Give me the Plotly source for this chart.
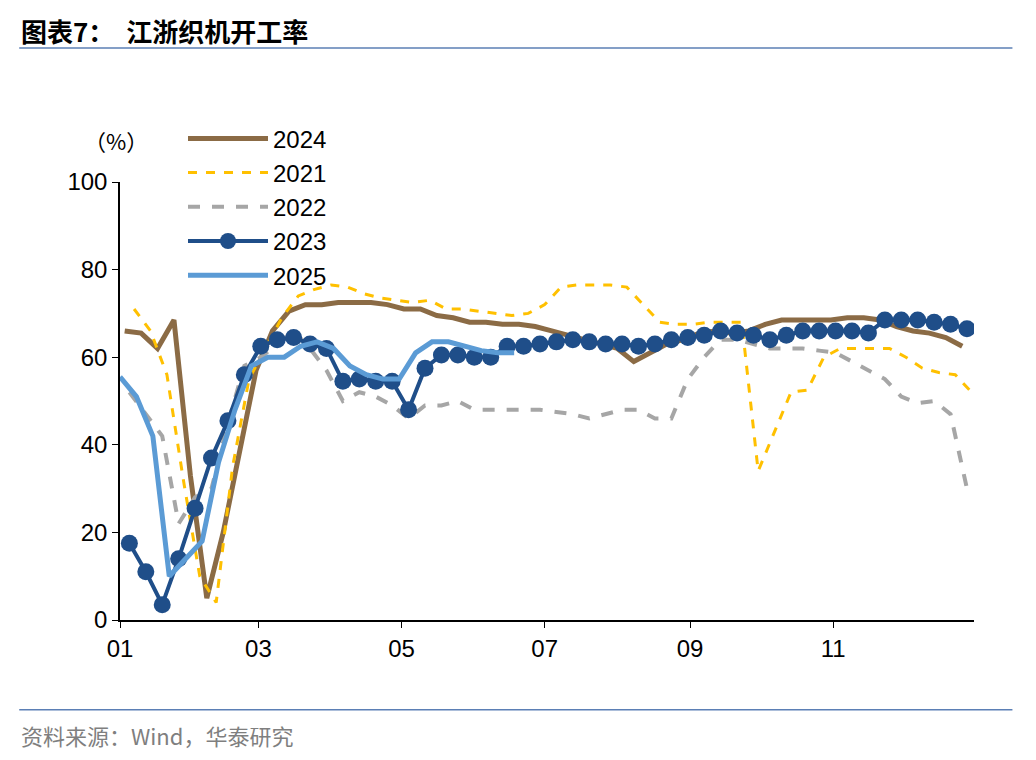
import plotly.graph_objects as go

tick_days = [0, 59, 120, 181, 243, 304]
tick_labels = ["01", "03", "05", "07", "09", "11"]

start_2024, start_2021, start_2022, start_2023, start_2025 = 2, 6, 4, 4, 0
v2024 = [66,65.5,62,68.5,33,5,20,38,57,66,70.5,72,72,72.5,72.5,72.5,72,71,71,69.5,
         69,68,68,67.5,67.5,67,66,65,64,63,62,59,61,63,64,65.5,66,65.5,66,67.5,
         68.5,68.5,68.5,68.5,69,69,68.5,67,66,65.5,64.5,62.5]
v2021 = [71,66,56,32,10,4,35,55,62,69,74,75.5,76.5,76,74.5,73.5,73,72.5,73,71,
         71,70.5,70,69.5,70,72,76,76.5,76.5,76.5,76,72,68,67.5,67.5,68,68,68,34,43,
         52,52.5,60,62,62,62,62,60,57.5,56.5,56,52]
v2022 = [52,47,42,22,28,30,45,58,60,63,66,62,57,50,52,51,49,46,49,49,
         50,48,48,48,48,48,47.5,47,46,47,48,48,46,46,55,60,64,64,63,62,
         62,62,61.5,61,59,57,55,51,49.5,50,47,30]
v2023 = [17.5,11,3.5,14,25.5,37,45.5,56,62.5,64,64.5,63,62,54.5,55,54.5,54.5,48,57.5,60.5,
         60.5,60,60,62.5,62.5,63,63.5,64,63.5,63,63,62.5,63,64,64.5,65,66,65.5,65,64,
         65,66,66,66,66,65.5,68.5,68.5,68.5,68,67.5,66.5]
v2025 = [55.5,51,42,10,14,18,36,48,58,60,60,62.5,63.5,62,58,56,55,55,61,63.5,
         63.5,62.5,61.5,61,61]

def days(start, vals):
    return [start + 7 * i for i in range(len(vals))]

fig = go.Figure()
fig.add_trace(go.Scatter(x=days(start_2024, v2024), y=v2024, name="2024", mode="lines",
                         line=dict(color="#8B6B45", width=5)))
fig.add_trace(go.Scatter(x=days(start_2021, v2021), y=v2021, name="2021", mode="lines",
                         line=dict(color="#FFC000", width=3, dash="dash")))
fig.add_trace(go.Scatter(x=days(start_2022, v2022), y=v2022, name="2022", mode="lines",
                         line=dict(color="#A6A6A6", width=4, dash="dash")))
fig.add_trace(go.Scatter(x=days(start_2023, v2023), y=v2023, name="2023", mode="lines+markers",
                         line=dict(color="#1F4E89", width=4), marker=dict(size=17, color="#1F4E89")))
fig.add_trace(go.Scatter(x=days(start_2025, v2025), y=v2025, name="2025", mode="lines",
                         line=dict(color="#5B9BD5", width=5)))

fig.update_layout(
    width=1036, height=760, plot_bgcolor="white", paper_bgcolor="white",
    margin=dict(l=112, r=70, t=174, b=148),
    font=dict(family="Liberation Sans, Arial", size=24, color="black"),
    showlegend=True,
    legend=dict(orientation="h", x=0.14, y=1.15, xanchor="left", yanchor="top",
                entrywidth=188, entrywidthmode="pixels", itemwidth=80,
                font=dict(size=24), bgcolor="rgba(0,0,0,0)"),
    xaxis=dict(range=[0, 364], tickvals=tick_days, ticktext=tick_labels, showgrid=False,
               showline=True, linecolor="black", linewidth=1.5, ticks="outside",
               ticklen=6, tickcolor="black", zeroline=False),
    yaxis=dict(range=[0, 100], dtick=20, showgrid=False, showline=True, linecolor="black",
               linewidth=1.5, ticks="outside", ticklen=6, tickcolor="black", zeroline=False),
    annotations=[
        dict(text="<b>图表7：  江浙织机开工率</b>", x=-0.118, y=1.347, xref="paper", yref="paper",
             showarrow=False, xanchor="left", yanchor="middle",
             font=dict(family="Noto Sans CJK SC", size=26)),
        dict(text="（%）", x=0, y=1.096, xref="paper", yref="paper", showarrow=False,
             xanchor="right", yanchor="middle", xshift=30, font=dict(size=22, family="Noto Sans CJK SC")),
        dict(text="资料来源：Wind，华泰研究", x=-0.118, y=0, xref="paper", yref="paper", showarrow=False,
             xanchor="left", yanchor="middle", yshift=-115,
             font=dict(size=22, color="#7F7F7F", family="Noto Sans CJK SC")),
    ],
)
fig.add_shape(type="line", xref="paper", yref="paper", x0=-0.118, x1=1.045, y0=1.306, y1=1.306,
              line=dict(color="#5B7FB5", width=1.5))
fig.add_shape(type="line", xref="paper", yref="paper", x0=-0.118, x1=1.045, y0=-0.205, y1=-0.205,
              line=dict(color="#5B7FB5", width=1.5))
fig.write_html("out.html")
